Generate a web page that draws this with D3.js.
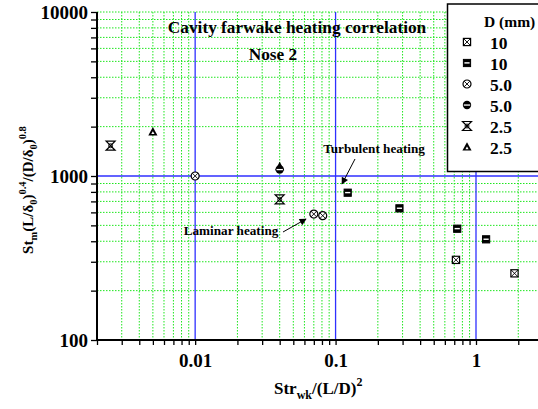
<!DOCTYPE html>
<html>
<head>
<meta charset="utf-8">
<script src="https://cdn.jsdelivr.net/npm/d3@7"></script>
<style>
  html, body { margin: 0; padding: 0; background: #fff; }
  svg { display: block; font-family: "Liberation Serif", "Times New Roman", serif; font-weight: bold; }
</style>
</head>
<body>
<svg id="chart" width="538" height="409"></svg>
<script>
// series data
const seriesLabels = ["10", "10", "5.0", "5.0", "2.5", "2.5"];
const seriesMarkers = ["boxX", "halfSquare", "circleX", "halfCircle", "hourglass", "triangle"];

const d10boxX = [[0.72, 308], [1.88, 255]];
const d10half = [[0.122, 791], [0.285, 635], [0.735, 477], [1.18, 411]];
const d5circX = [[0.01, 1000], [0.070, 586], [0.081, 573]];
const d5half = [[0.040, 1095]];
const d25hour = [[0.0025, 1530], [0.040, 720]];
const d25tri = [[0.005, 1860], [0.040, 1140]];

const seriesData = [d10boxX, d10half, d5circX, d5half, d25hour, d25tri];

const xTickValues = [0.01, 0.1, 1];
const xTickLabels = ["0.01", "0.1", "1"];
const yTickValues = [100, 1000, 10000];
const yTickLabels = ["100", "1000", "10000"];

const svg = d3.select("#chart");
const width = 538;
const height = 409;

const PLOT = { left: 97, top: 12, bottom: 340, right: 543 };
const GRID_GREEN = "#1ee61e";
const BLUE = "#2f2fff";

const x = d3.scaleLog().domain([0.002, 3]).range([PLOT.left, PLOT.right]);
const y = d3.scaleLog().domain([100, 10000]).range([PLOT.bottom, PLOT.top]);

// minor values for grid and ticks
function logSteps(lo, hi) {
  const out = [];
  for (let e = Math.floor(Math.log10(lo)); e <= Math.ceil(Math.log10(hi)); e++) {
    for (let m = 1; m <= 9; m++) {
      const v = m * Math.pow(10, e);
      if (v >= lo * 0.999 && v <= hi * 1.001) out.push(v);
    }
  }
  return out;
}
const xAll = logSteps(0.002, 3);
const yAll = logSteps(100, 10000);
const isMajor = (v) => Math.abs(Math.log10(v) - Math.round(Math.log10(v))) < 1e-6;

const grid = svg.append("g");
grid.selectAll("line.gx")
  .data(xAll.filter((v) => !isMajor(v)))
  .join("line")
  .attr("x1", (d) => x(d)).attr("x2", (d) => x(d))
  .attr("y1", PLOT.top).attr("y2", PLOT.bottom)
  .attr("stroke", GRID_GREEN).attr("stroke-width", 1).attr("stroke-dasharray", "1.5,1.5");
grid.selectAll("line.gy")
  .data(yAll.filter((v) => !isMajor(v) || v === 10000))
  .join("line")
  .attr("x1", PLOT.left).attr("x2", width)
  .attr("y1", (d) => y(d)).attr("y2", (d) => y(d))
  .attr("stroke", GRID_GREEN).attr("stroke-width", 1).attr("stroke-dasharray", "1.5,1.5");

// blue major lines
grid.selectAll("line.bx")
  .data(xTickValues)
  .join("line")
  .attr("x1", (d) => x(d)).attr("x2", (d) => x(d))
  .attr("y1", PLOT.top).attr("y2", PLOT.bottom)
  .attr("stroke", BLUE).attr("stroke-width", 1.3);
grid.append("line")
  .attr("x1", PLOT.left).attr("x2", width)
  .attr("y1", y(1000)).attr("y2", y(1000))
  .attr("stroke", BLUE).attr("stroke-width", 1.3);

// axes
const xAxis = d3.axisBottom(x)
  .tickValues(xAll)
  .tickSize(5)
  .tickFormat((d) => {
    const i = xTickValues.findIndex((v) => Math.abs(v - d) < d * 1e-6);
    return i >= 0 ? xTickLabels[i] : "";
  });
const yAxis = d3.axisLeft(y)
  .tickValues(yAll)
  .tickSize(6)
  .tickFormat((d) => {
    const i = yTickValues.findIndex((v) => Math.abs(v - d) < d * 1e-6);
    return i >= 0 ? yTickLabels[i] : "";
  });

const gx = svg.append("g").attr("transform", `translate(0,${PLOT.bottom})`).call(xAxis);
gx.select(".domain").attr("stroke", "#000").attr("stroke-width", 2).attr("d", `M${PLOT.left},0H${width}`);
gx.selectAll(".tick line").attr("stroke", "#000").attr("stroke-width", 1.3);
gx.selectAll(".tick text")
  .attr("font-family", "Liberation Serif, serif").attr("font-weight", "bold")
  .attr("font-size", 19).attr("fill", "#000").attr("dy", "1.0em");

const gy = svg.append("g").attr("transform", `translate(${PLOT.left},0)`).call(yAxis);
gy.select(".domain").attr("stroke", "#000").attr("stroke-width", 2).attr("d", `M0,${PLOT.top}V${PLOT.bottom}`);
gy.selectAll(".tick line").attr("stroke", "#000").attr("stroke-width", 1.3);
gy.selectAll(".tick text")
  .attr("font-family", "Liberation Serif, serif").attr("font-weight", "bold")
  .attr("font-size", 19).attr("fill", "#000").attr("x", -9);

// markers
function drawMarker(g, type) {
  const h = 3.6;
  if (type === "boxX") {
    g.append("rect").attr("x", -h).attr("y", -h).attr("width", 2 * h).attr("height", 2 * h)
      .attr("fill", "#fff").attr("stroke", "#000").attr("stroke-width", 1.2);
    g.append("path").attr("d", `M${-h},${-h}L${h},${h}M${h},${-h}L${-h},${h}`)
      .attr("stroke", "#000").attr("stroke-width", 0.9);
  } else if (type === "halfSquare") {
    g.append("rect").attr("x", -h).attr("y", -h).attr("width", 2 * h).attr("height", 2 * h)
      .attr("fill", "#000").attr("stroke", "#000").attr("stroke-width", 1);
    g.append("rect").attr("x", -h + 1).attr("y", -0.8).attr("width", 2 * h - 2).attr("height", 1.4)
      .attr("fill", "#fff");
  } else if (type === "circleX") {
    g.append("circle").attr("r", 4).attr("fill", "#fff").attr("stroke", "#000").attr("stroke-width", 1.2);
    g.append("path").attr("d", "M-2.8,-2.8L2.8,2.8M2.8,-2.8L-2.8,2.8")
      .attr("stroke", "#000").attr("stroke-width", 0.9);
  } else if (type === "halfCircle") {
    g.append("circle").attr("r", 4.2).attr("fill", "#000");
    g.append("rect").attr("x", -3.2).attr("y", -0.6).attr("width", 6.4).attr("height", 1.3)
      .attr("fill", "#fff");
  } else if (type === "hourglass") {
    g.append("path").attr("d", "M-4.5,-4.5H4.5L-4.5,4.5H4.5Z")
      .attr("fill", "none").attr("stroke", "#000").attr("stroke-width", 1.2);
    g.append("circle").attr("r", 2).attr("fill", "none").attr("stroke", "#000").attr("stroke-width", 0.9);
  } else if (type === "triangle") {
    g.append("path").attr("d", "M0,-4.8L4.6,3.6H-4.6Z").attr("fill", "#000");
    g.append("path").attr("d", "M0,-0.5L1.6,2.2H-1.6Z").attr("fill", "#fff");
  }
}

const pts = svg.append("g");
for (let s = seriesData.length - 1; s >= 0; s--) {
  pts.selectAll(null)
    .data(seriesData[s])
    .join("g")
    .attr("transform", (d) => `translate(${x(d[0])},${y(d[1])})`)
    .each(function () { drawMarker(d3.select(this), seriesMarkers[s]); });
}

// titles
svg.append("text").attr("x", 297).attr("y", 33).attr("text-anchor", "middle")
  .attr("font-size", 17.3).text("Cavity farwake heating correlation");
svg.append("text").attr("x", 273).attr("y", 60).attr("text-anchor", "middle")
  .attr("font-size", 17.3).text("Nose 2");

// annotations
const defs = svg.append("defs");
defs.append("marker").attr("id", "arr").attr("viewBox", "0 0 10 10")
  .attr("refX", 9).attr("refY", 5).attr("markerWidth", 9).attr("markerHeight", 7)
  .attr("markerUnits", "userSpaceOnUse").attr("orient", "auto")
  .append("path").attr("d", "M0,0L10,5L0,10Z").attr("fill", "#000");

svg.append("text").attr("x", 374).attr("y", 153).attr("text-anchor", "middle")
  .attr("font-size", 13.2).text("Turbulent heating");
svg.append("line").attr("x1", 355).attr("y1", 159).attr("x2", 342).attr("y2", 184)
  .attr("stroke", "#000").attr("stroke-width", 1).attr("marker-end", "url(#arr)");

svg.append("text").attr("x", 231).attr("y", 235).attr("text-anchor", "middle")
  .attr("font-size", 13.2).text("Laminar heating");
svg.append("line").attr("x1", 283).attr("y1", 232).attr("x2", 306).attr("y2", 219)
  .attr("stroke", "#000").attr("stroke-width", 1).attr("marker-end", "url(#arr)");

// axis titles
const xl = svg.append("text").attr("x", 274).attr("y", 394).attr("font-size", 17);
xl.append("tspan").text("Str");
xl.append("tspan").attr("dy", 5).attr("font-size", 12).text("wk");
xl.append("tspan").attr("dy", -5).text("/(L/D)");
xl.append("tspan").attr("dy", -8).attr("font-size", 12).text("2");

const yl = svg.append("text").attr("transform", "translate(33,190) rotate(-90)")
  .attr("text-anchor", "middle").attr("font-size", 15);
yl.append("tspan").text("St");
yl.append("tspan").attr("dy", 4).attr("font-size", 10.5).text("m");
yl.append("tspan").attr("dy", -4).text("(L/δ");
yl.append("tspan").attr("dy", 4).attr("font-size", 10.5).text("0");
yl.append("tspan").attr("dy", -4).text(")");
yl.append("tspan").attr("dy", -7).attr("font-size", 10.5).text("0.4");
yl.append("tspan").attr("dy", 7).text("/(D/δ");
yl.append("tspan").attr("dy", 4).attr("font-size", 10.5).text("0");
yl.append("tspan").attr("dy", -4).text(")");
yl.append("tspan").attr("dy", -7).attr("font-size", 10.5).text("0.8");

// legend
const lg = svg.append("g");
lg.append("rect").attr("x", 447.5).attr("y", 4).attr("width", 120).attr("height", 167.5)
  .attr("fill", "#fff").attr("stroke", "#000").attr("stroke-width", 1.5);
lg.append("text").attr("x", 484).attr("y", 27).attr("font-size", 15.5).text("D (mm)");
seriesLabels.forEach((label, i) => {
  const cy = 42 + i * 21;
  const m = lg.append("g").attr("transform", `translate(467,${cy})`);
  drawMarker(m, seriesMarkers[i]);
  lg.append("text").attr("x", 490).attr("y", cy + 6.5).attr("font-size", 17.5).text(label);
});
</script>
</body>
</html>
